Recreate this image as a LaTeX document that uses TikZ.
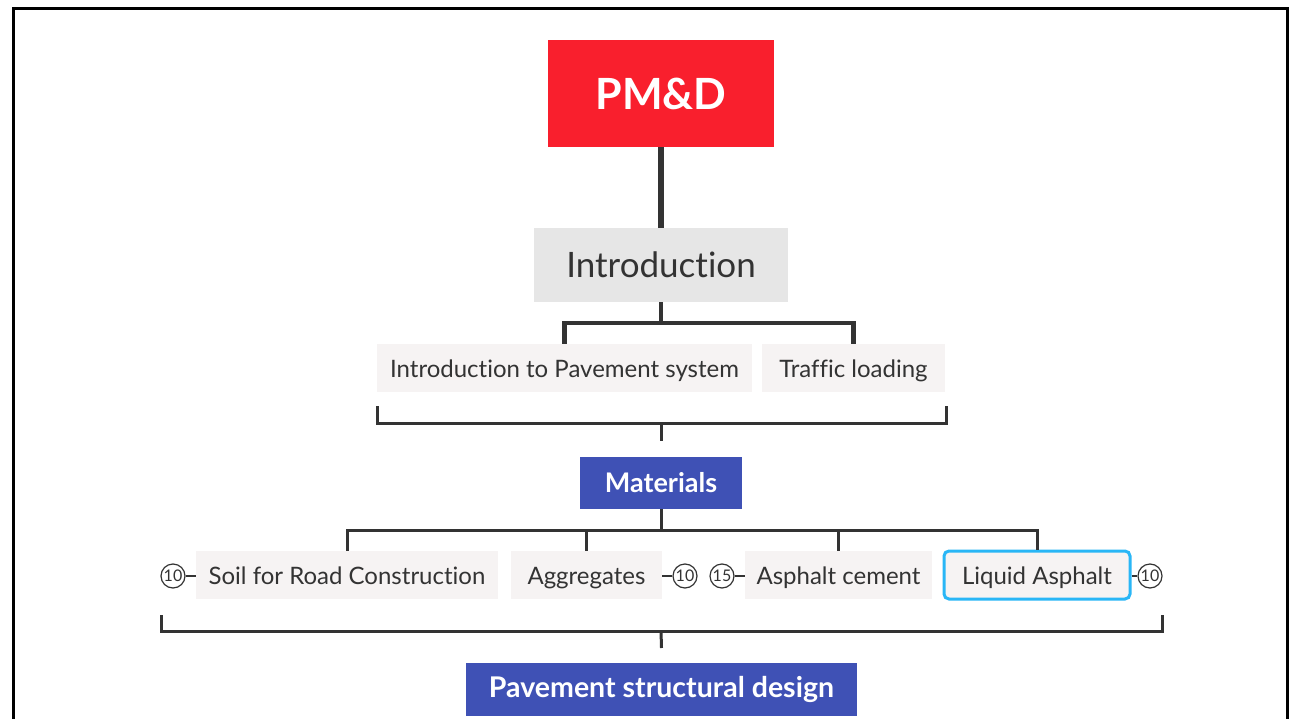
\documentclass[tikz,border=0pt]{standalone}
\usepackage{fontspec}
\setmainfont{Lato}[Ligatures=NoCommon]
\definecolor{pmred}{HTML}{F91F2D}
\definecolor{indigo}{HTML}{3F51B5}
\definecolor{introgray}{HTML}{E6E6E6}
\definecolor{lightbox}{HTML}{F6F3F3}
\definecolor{linecol}{HTML}{333333}
\definecolor{textcol}{HTML}{333333}
\definecolor{selblue}{HTML}{29B6F6}
\tikzset{
  box/.style={inner sep=0pt, anchor=center},
  leaf/.style={box, fill=lightbox, text=textcol, font=\fontsize{24}{28}\selectfont, minimum height=48pt, text height=21pt, text depth=3pt},
  bluebox/.style={box, fill=indigo, text=white, font=\fontsize{27}{32}\selectfont\bfseries},
  conn/.style={draw=linecol, line width=3pt},
  thick conn/.style={draw=linecol, line width=5.5pt},
  num/.style={circle, draw=linecol, line width=1.2pt, inner sep=0pt, minimum size=24pt, text=textcol, font=\fontsize{16}{18}\selectfont},
}
\begin{document}
\begin{tikzpicture}[x=1pt,y=-1pt]
\useasboundingbox (0,0) rectangle (1289,719);
\fill[white] (0,0) rectangle (1289,719);
% frame
\draw[black, line width=3pt] (13,719) -- (13,9) -- (1287,9) -- (1287,719);

% nodes
\node[box, fill=pmred, text=white, minimum width=226pt, minimum height=107pt, font=\fontsize{43}{48}\selectfont\bfseries] (pmd) at (661,93.5) {PM\&D};
\node[box, fill=introgray, text=textcol, minimum width=254pt, minimum height=74pt, font=\fontsize{35}{40}\selectfont] (intro) at (661,265) {Introduction};

\node[leaf, minimum width=375pt] (ips) at (564.5,368) {Introduction to Pavement system};
\node[leaf, minimum width=183pt] (traffic) at (853.5,368) {Traffic loading};

\node[bluebox, minimum width=162pt, minimum height=52pt] (mat) at (661,483) {Materials};

\node[leaf, minimum width=302pt] (soil) at (347,575) {Soil for Road Construction};
\node[leaf, minimum width=151pt] (agg) at (586.5,575) {Aggregates};
\node[leaf, minimum width=187pt] (asc) at (838.5,575) {Asphalt cement};
\node[leaf, minimum width=186pt, draw=selblue, line width=3pt, rounded corners=5pt] (liq) at (1037,575) {Liquid Asphalt};

\node[bluebox, minimum width=391pt, minimum height=53pt, font=\fontsize{28.5}{32}\selectfont\bfseries] (psd) at (661.5,689.5) {Pavement structural design};

% number badges
\node[num] (n1) at (173,576) {10};
\node[num] (n2) at (685,576) {10};
\node[num] (n3) at (722,576) {15};
\node[num] (n4) at (1150,576) {10};
\draw[draw=linecol, line width=2pt] (n1.east) -- (soil.west |- n1.east);
\draw[draw=linecol, line width=2pt] (agg.east |- n2.west) -- (n2.west);
\draw[draw=linecol, line width=2pt] (n3.east) -- (asc.west |- n3.east);
\draw[draw=linecol, line width=2pt] (liq.east |- n4.west) -- (n4.west);

% connectors
\draw[thick conn] (pmd.south) -- (intro.north);
\coordinate (j1) at (661,323);
\draw[conn, line width=4.5pt] (intro.south) -- (j1);
\draw[conn, line width=4.5pt, line cap=rect] (ips.north |- j1) -- (traffic.north |- j1);
\draw[conn, line width=4.5pt] (ips.north |- j1) -- (ips.north);
\draw[conn, line width=4.5pt] (traffic.north |- j1) -- (traffic.north);

% bracket 1
\coordinate (b1l) at (377,406);
\coordinate (b1r) at (946,406);
\coordinate (b1m) at (661,423);
\draw[conn] (b1l) -- (b1l |- b1m) -- (b1r |- b1m) -- (b1r);
\draw[conn] (b1m) -- (mat.north |- 0,441);

% materials children
\coordinate (j2) at (661,530);
\draw[conn] (mat.south) -- (j2);
\draw[conn, line cap=rect] (soil.north |- j2) -- (liq.north |- j2);
\draw[conn] (soil.north |- j2) -- (soil.north);
\draw[conn] (agg.north |- j2) -- (agg.north);
\draw[conn] (asc.north |- j2) -- (asc.north);
\draw[conn] (liq.north |- j2) -- (liq.north);

% bracket 2
\coordinate (b2l) at (161,615);
\coordinate (b2r) at (1162,615);
\coordinate (b2m) at (661,631);
\draw[conn] (b2l) -- (b2l |- b2m) -- (b2r |- b2m) -- (b2r);
\draw[conn] (b2m) -- (psd.north |- 0,648);
\end{tikzpicture}
\end{document}
